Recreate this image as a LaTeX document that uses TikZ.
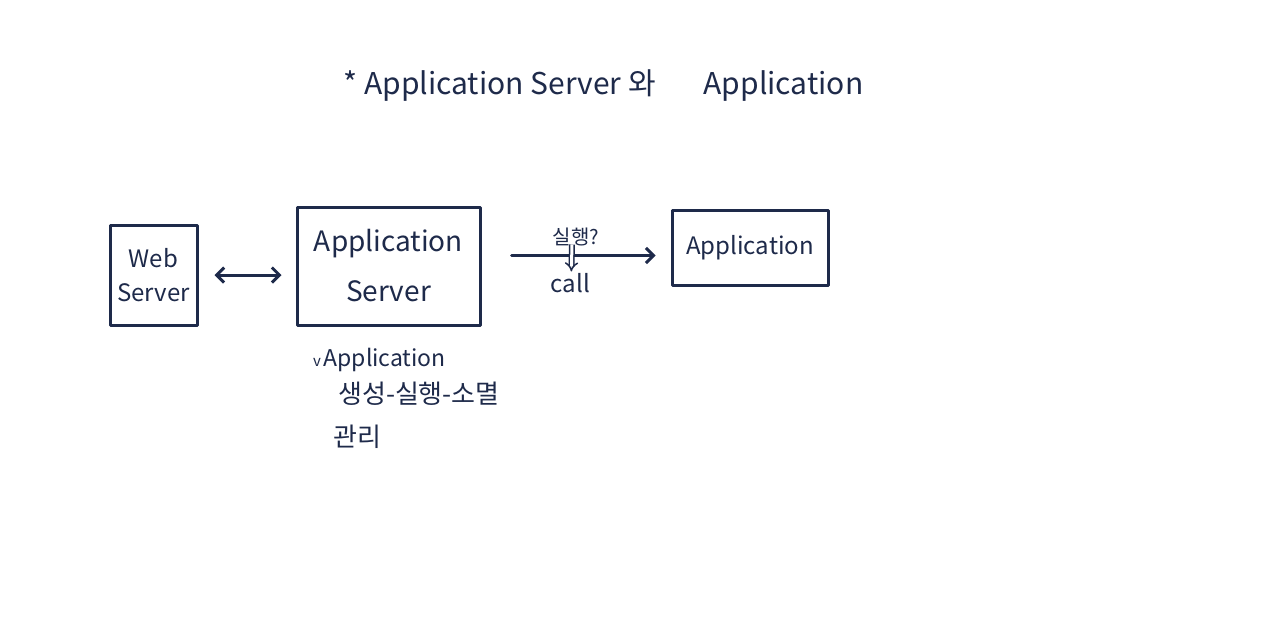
\documentclass[tikz,border=0pt]{standalone}
\usepackage{fontspec}
\setmainfont{Noto Sans CJK KR}
\usetikzlibrary{positioning,arrows.meta,calc}
\definecolor{ink}{HTML}{1E2A4A}

\begin{document}
\begin{tikzpicture}[x=1pt, y=-1pt, >=Straight Barb,
    ink line/.style={draw=ink, line width=3pt, line cap=round, line join=round},
    sketch box/.style={ink line, inner sep=0pt, align=center, text=ink, font=\fontsize{24}{34}\selectfont},
    note/.style={text=ink, anchor=west, inner sep=0pt, font=\fontsize{26}{28}\selectfont}]
    \useasboundingbox[fill=white] (0,0) rectangle (1280,635);

    % Title
    \node[text=ink, anchor=west, font=\fontsize{30}{32}\selectfont] (title) at (340,86) {* Application Server 와\hspace{48pt}Application};

    % Boxes
    \node[sketch box, minimum width=87pt, minimum height=100pt] (web) at (153.5,275) {Web\\Server};
    \node[sketch box, minimum width=183pt, minimum height=118pt, font=\fontsize{28}{50}\selectfont] (appsrv) at (388.5,266) {Application\\Server};
    \node[sketch box, minimum width=156pt, minimum height=75pt] (app) at (750,247.5) {Application};

    % Web server <-> application server
    \draw[ink line, <->, shorten <=16pt, shorten >=14pt] (web.east) -- (web.east -| appsrv.west);

    % Application server -> application
    \coordinate (callend) at ([yshift=-8pt]app.west);
    \draw[ink line, ->, shorten <=30pt, shorten >=15pt] (callend -| appsrv.east) -- (callend)
        node[pos=0.5, above=5pt, text=ink, font=\fontsize{20}{22}\selectfont] (run) {실행?}
        node[pos=0.47, below=16pt, inner sep=0pt, text=ink, font=\fontsize{24}{26}\selectfont] (call) {call};
    \draw[draw=ink, double=white, line width=1.5pt, double distance=3pt, -{Implies}]
        ([xshift=-4pt,yshift=6pt]run.south) -- ([xshift=1pt,yshift=0pt]call.north);

    % Note under application server
    \node[note] (n1) at (313,360) {\fontsize{15}{16}\selectfont v\,\fontsize{23}{26}\selectfont Application};
    \node[note] (n2) at (338,394) {생성-실행-소멸};
    \node[note] (n3) at (333,437) {관리};
\end{tikzpicture}
\end{document}
